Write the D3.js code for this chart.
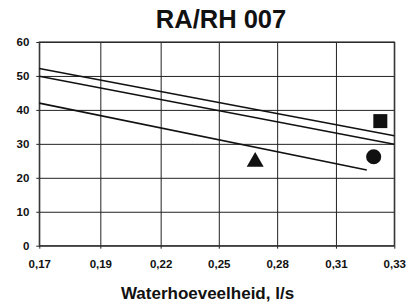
<!DOCTYPE html>
<html>
<head>
<meta charset="utf-8">
<script src="https://cdn.jsdelivr.net/npm/d3@7"></script>
<style>
  body { margin: 0; background: #fff; }
  svg { display: block; font-family: "Liberation Sans", Arial, sans-serif; }
</style>
</head>
<body>
<div class="main"></div>
<script>
// chart data
const title = "RA/RH 007";
const xLabel = "Waterhoeveelheid, l/s";
const xTickLabels = ["0,17", "0,19", "0,22", "0,25", "0,28", "0,31", "0,33"];
const xTickValues = [0.17, 0.1975, 0.2247, 0.2509, 0.2772, 0.3037, 0.33];
const yTicks = [0, 10, 20, 30, 40, 50, 60];

// the three sloping lines
const lineTop = [[0.17, 52.2], [0.33, 32.4]];
const lineMid = [[0.17, 49.9], [0.33, 29.9]];
const lineLow = [[0.17, 42.0], [0.3176, 22.3]];

// single markers
const squarePoint = [0.3237, 36.7];
const circlePoint = [0.3207, 26.2];
const trianglePoint = [0.2673, 24.7];

let width = 410,
    height = 302;

let margin = {top: 42, right: 15.7, bottom: 56.3, left: 39.3};

let svg = d3.select("div.main").append("svg")
  .attr("width", width)
  .attr("height", height);

let x = d3.scaleLinear()
  .domain([0.17, 0.33])
  .range([margin.left, width - margin.right]);

let y = d3.scaleLinear()
  .domain([0, 60])
  .range([height - margin.bottom, margin.top]);

// title
svg.append("text")
  .text(title)
  .attr("x", 221)
  .attr("y", 28.3)
  .attr("text-anchor", "middle")
  .attr("font-size", "25.5px")
  .attr("font-weight", "bold")
  .attr("fill", "#111");

// horizontal grid + y ticks
let yAxis = d3.axisLeft(y)
  .tickValues(yTicks)
  .tickSize(-(width - margin.left - margin.right))
  .tickPadding(10)
  .tickFormat(d3.format("d"));

let gy = svg.append("g")
  .attr("transform", "translate(" + margin.left + ",0)")
  .call(yAxis);
gy.select(".domain").remove();
gy.selectAll(".tick line")
  .attr("x1", -3)
  .attr("stroke", "#222")
  .attr("stroke-width", 1);
gy.selectAll(".tick text")
  .attr("font-size", "11.5px")
  .attr("font-weight", "bold")
  .attr("fill", "#111")
  .attr("font-family", "Liberation Sans, Arial, sans-serif");

// vertical grid + x ticks
let xAxis = d3.axisBottom(x)
  .tickValues(xTickValues)
  .tickSize(-(height - margin.top - margin.bottom))
  .tickPadding(14)
  .tickFormat(function(d, i) { return xTickLabels[i]; });

let gx = svg.append("g")
  .attr("transform", "translate(0," + (height - margin.bottom) + ")")
  .call(xAxis);
gx.select(".domain").remove();
gx.selectAll(".tick line")
  .attr("y1", 3)
  .attr("stroke", "#222")
  .attr("stroke-width", 1);
gx.selectAll(".tick text")
  .attr("font-size", "11.5px")
  .attr("font-weight", "bold")
  .attr("fill", "#111")
  .attr("font-family", "Liberation Sans, Arial, sans-serif");

// plot border
svg.append("rect")
  .attr("x", margin.left)
  .attr("y", margin.top)
  .attr("width", width - margin.left - margin.right)
  .attr("height", height - margin.top - margin.bottom)
  .attr("fill", "none")
  .attr("stroke", "#333")
  .attr("stroke-width", 1.2);

// x axis label
svg.append("text")
  .text(xLabel)
  .attr("x", 207.5)
  .attr("y", 299)
  .attr("text-anchor", "middle")
  .attr("font-size", "17px")
  .attr("font-weight", "bold")
  .attr("fill", "#111");

// lines
let line = d3.line()
  .x(function(d) { return x(d[0]); })
  .y(function(d) { return y(d[1]); });

[lineTop, lineMid, lineLow].forEach(function(l) {
  svg.append("path")
    .attr("d", line(l))
    .attr("fill", "none")
    .attr("stroke", "#111")
    .attr("stroke-width", 1.6);
});

// markers
let markers = [
  {p: squarePoint, type: d3.symbolSquare, size: 196},
  {p: circlePoint, type: d3.symbolCircle, size: 180},
  {p: trianglePoint, type: d3.symbolTriangle, size: 125}
];

markers.forEach(function(m) {
  svg.append("path")
    .attr("d", d3.symbol().type(m.type).size(m.size)())
    .attr("transform", "translate(" + x(m.p[0]) + "," + y(m.p[1]) + ")")
    .attr("fill", "#111");
});
</script>
</body>
</html>
